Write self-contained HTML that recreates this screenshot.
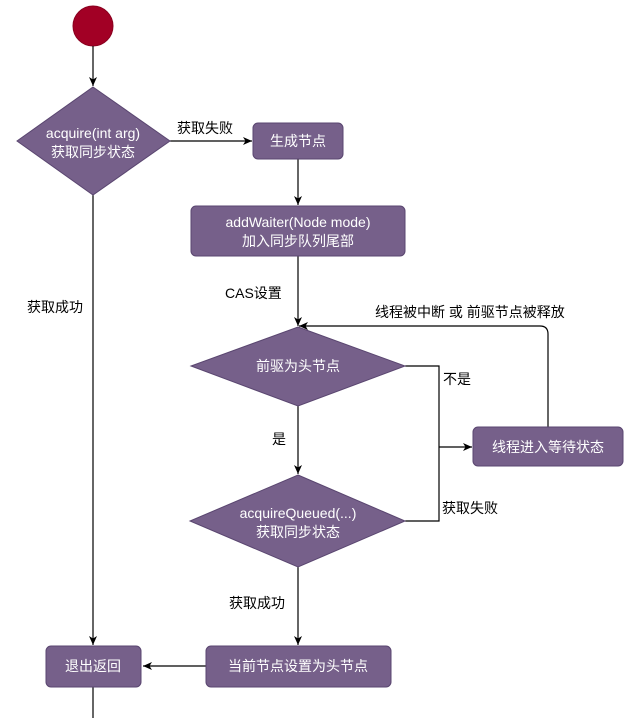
<!DOCTYPE html>
<html><head><meta charset="utf-8">
<style>
html,body{margin:0;padding:0;background:#fff;}
svg{display:block;}
.n{fill:#76608a;stroke:#5a4670;stroke-width:1;}
.t{fill:#fff;font-family:"Liberation Sans","Noto Sans CJK SC",sans-serif;font-size:14px;text-anchor:middle;}
.l{fill:#000;font-family:"Liberation Sans","Noto Sans CJK SC",sans-serif;font-size:14px;}
.e{stroke:#000;stroke-width:1.2;fill:none;}
</style></head>
<body>
<svg width="644" height="718" viewBox="0 0 644 718" xmlns="http://www.w3.org/2000/svg">
<defs>
<marker id="a" markerWidth="10" markerHeight="10" refX="9" refY="5" orient="auto" markerUnits="userSpaceOnUse">
<path d="M0,1 L9,5 L0,9 L2.5,5 Z" fill="#000"/>
</marker>
</defs>
<circle cx="93" cy="26" r="20" fill="#a20025" stroke="#8a001f"/>
<!-- edges -->
<line class="e" x1="93" y1="46" x2="93" y2="86" marker-end="url(#a)"/>
<line class="e" x1="170" y1="141" x2="252" y2="141" marker-end="url(#a)"/>
<line class="e" x1="298" y1="159" x2="298" y2="205" marker-end="url(#a)"/>
<line class="e" x1="298" y1="256" x2="298" y2="326" marker-end="url(#a)"/>
<line class="e" x1="298" y1="406" x2="298" y2="474" marker-end="url(#a)"/>
<line class="e" x1="298" y1="567" x2="298" y2="645" marker-end="url(#a)"/>
<line class="e" x1="206" y1="666" x2="143" y2="666" marker-end="url(#a)"/>
<line class="e" x1="93" y1="195" x2="93" y2="645" marker-end="url(#a)"/>
<line class="e" x1="93" y1="687" x2="93" y2="718"/>
<polyline class="e" points="405,366 439,366 439,521 405,521"/>
<line class="e" x1="439" y1="447" x2="472" y2="447" marker-end="url(#a)"/>
<path class="e" d="M548,427 L548,334 Q548,326 540,326 L299,326" marker-end="url(#a)"/>
<!-- nodes -->
<polygon class="n" points="93,87 170,141 93,195 17,141"/>
<text class="t" x="93" y="138">acquire(int arg)</text>
<text class="t" x="93" y="157">获取同步状态</text>
<rect class="n" x="253" y="123" width="90" height="36" rx="5"/>
<text class="t" x="298" y="146">生成节点</text>
<rect class="n" x="191" y="206" width="214" height="50" rx="5"/>
<text class="t" x="298" y="227">addWaiter(Node mode)</text>
<text class="t" x="298" y="246">加入同步队列尾部</text>
<polygon class="n" points="298,327 405,366 298,406 191,366"/>
<text class="t" x="298" y="371">前驱为头节点</text>
<polygon class="n" points="298,475 405,521 298,567 190,521"/>
<text class="t" x="298" y="518">acquireQueued(...)</text>
<text class="t" x="298" y="537">获取同步状态</text>
<rect class="n" x="473" y="427" width="150" height="39" rx="5"/>
<text class="t" x="548" y="452">线程进入等待状态</text>
<rect class="n" x="206" y="646" width="185" height="41" rx="5"/>
<text class="t" x="298" y="671">当前节点设置为头节点</text>
<rect class="n" x="46" y="646" width="95" height="41" rx="5"/>
<text class="t" x="93" y="671">退出返回</text>
<!-- labels -->
<text class="l" x="177" y="133">获取失败</text>
<text class="l" x="27" y="312">获取成功</text>
<text class="l" x="225" y="298">CAS设置</text>
<text class="l" x="375" y="317">线程被中断 或 前驱节点被释放</text>
<text class="l" x="443" y="384">不是</text>
<text class="l" x="272" y="444">是</text>
<text class="l" x="442" y="513">获取失败</text>
<text class="l" x="229" y="608">获取成功</text>
</svg>
</body></html>
